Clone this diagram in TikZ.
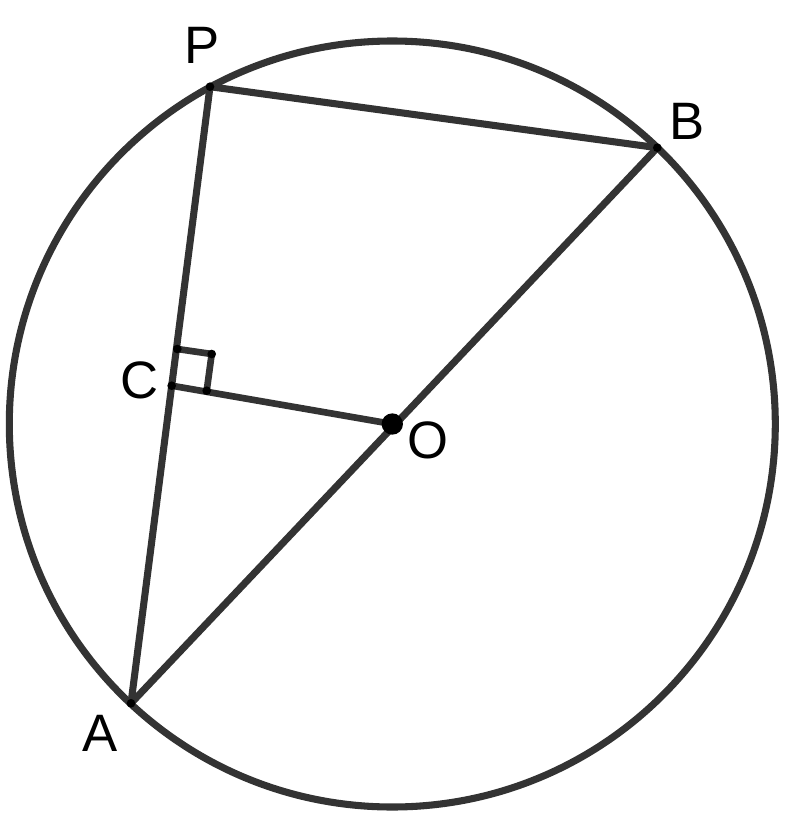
\documentclass[tikz,border=0pt]{standalone}
\usepackage{fontspec}
\setmainfont{Liberation Sans}
\begin{document}
\begin{tikzpicture}[x=0.75pt,y=-0.75pt,
  geo/.style={draw=black!80, line width=5.3pt, line join=round},
  thin/.style={draw=black!80, line width=5pt, line join=round},
  lbl/.style={inner sep=0pt, anchor=center, font=\fontsize{39.5}{41}\selectfont},
  dotsmall/.style={circle, fill=black, inner sep=0pt, minimum size=6.5pt},
  dotbig/.style={circle, fill=black, inner sep=0pt, minimum size=16pt}]
\useasboundingbox (0,0) rectangle (793,821);
\coordinate (O) at (392.3,424);
\coordinate (P) at (210,86.7);
\coordinate (B) at (657.3,147.7);
\coordinate (A) at (131,703.3);
\coordinate (C) at (171.7,385.7);
\coordinate (M1) at (177.3,349);
\coordinate (M2) at (211.7,354);
\coordinate (M3) at (206.7,390.7);
\draw[geo] (O) circle (383);
\draw[geo] (A) -- (P) -- (B);
\draw[geo] (A) -- (B);
\draw[thin] (C) -- (O);
\draw[thin] (M1) -- (M2) -- (M3);
\node[dotsmall] at (P) {};
\node[dotsmall] at (B) {};
\node[dotsmall] at (A) {};
\node[dotsmall] at (C) {};
\node[dotsmall] at (M2) {};
\node[dotsmall] at (M3) {};
\node[dotsmall] at (M1) {};
\node[dotbig] at (O) {};
\node[lbl] (lP) at (201.7,45) {P};
\node[lbl] (lB) at (686.7,121.7) {B};
\node[lbl] (lC) at (140,380) {C};
\node[lbl] (lO) at (428,440) {O};
\node[lbl] (lA) at (100,733) {A};
\end{tikzpicture}
\end{document}
